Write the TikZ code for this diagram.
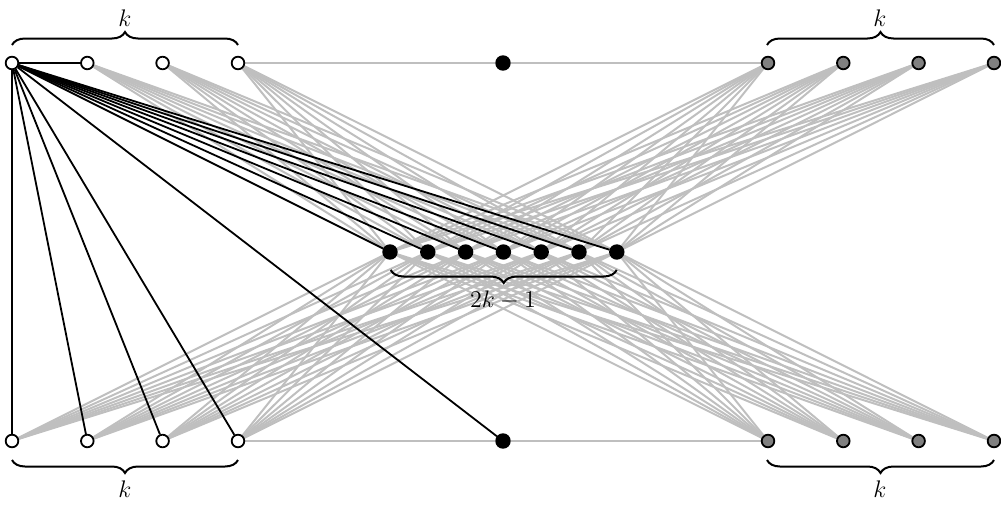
\documentclass[tikz,border=0pt]{standalone}
\usetikzlibrary{decorations.pathreplacing}
\pgfdeclarelayer{background}
\pgfsetlayers{background,main}
\begin{document}
\begin{tikzpicture}[x=0.5pt,y=-0.5pt,
  vtx/.style={circle,draw=black,line width=0.9pt,minimum size=6.3pt,inner sep=0pt},
  wv/.style={vtx,fill=white},
  gv/.style={vtx,fill=black!50},
  bv/.style={vtx,fill=black,minimum size=6.8pt},
  gedge/.style={black!25,line width=1pt},
  bedge/.style={black,line width=0.9pt},
  brc/.style={decorate,decoration={brace,amplitude=6.5pt},line width=1pt},
  lbl/.style={inner sep=0pt,font=\fontsize{12.8}{15}\selectfont}]
\useasboundingbox (0,0) rectangle (1001,504);
% outer vertices
\foreach \i/\x in {1/12,2/87.3,3/162.6,4/238}{
  \node[wv] (tl\i) at (\x,63) {};
  \node[wv] (bl\i) at (\x,441) {};
}
\foreach \i/\x in {1/768,2/843.3,3/918.6,4/994}{
  \node[gv] (tr\i) at (\x,63) {};
  \node[gv] (br\i) at (\x,441) {};
}
\node[bv] (t0) at (503,63) {};
\node[bv] (b0) at (503,441) {};
% middle vertices
\foreach \i in {1,...,7}{
  \node[bv] (m\i) at ({390+37.8*(\i-1)},252) {};
}
% edges
\begin{pgfonlayer}{background}
  \foreach \v in {tl2,tl3,tl4,bl1,bl2,bl3,bl4,tr1,tr2,tr3,tr4,br1,br2,br3,br4}{
    \foreach \j in {1,...,7}{
      \draw[gedge] (\v) -- (m\j);
    }
  }
  \draw[gedge] (tl4) -- (t0) -- (tr1);
  \draw[gedge] (bl4) -- (b0) -- (br1);
  \foreach \j in {1,...,7}{
    \draw[bedge] (tl1) -- (m\j);
  }
  \draw[bedge] (tl1) -- (tl2);
  \foreach \v in {bl1,bl2,bl3,bl4,b0}{
    \draw[bedge] (tl1) -- (\v);
  }
\end{pgfonlayer}
% braces
\draw[brc] (12,45) -- (238,45);
\draw[brc] (767,45) -- (994,45);
\draw[brc] (238,460) -- (12,460);
\draw[brc] (994,460) -- (767,460);
\draw[brc] (616.7,270) -- (390.7,270);
\node[lbl] (ktl) at (125,18) {$k$};
\node[lbl] (ktr) at (880,18) {$k$};
\node[lbl] (kbl) at (125,489) {$k$};
\node[lbl] (kbr) at (880,489) {$k$};
\node[lbl] (km) at (503,300) {$2k-1$};
\end{tikzpicture}
\end{document}
